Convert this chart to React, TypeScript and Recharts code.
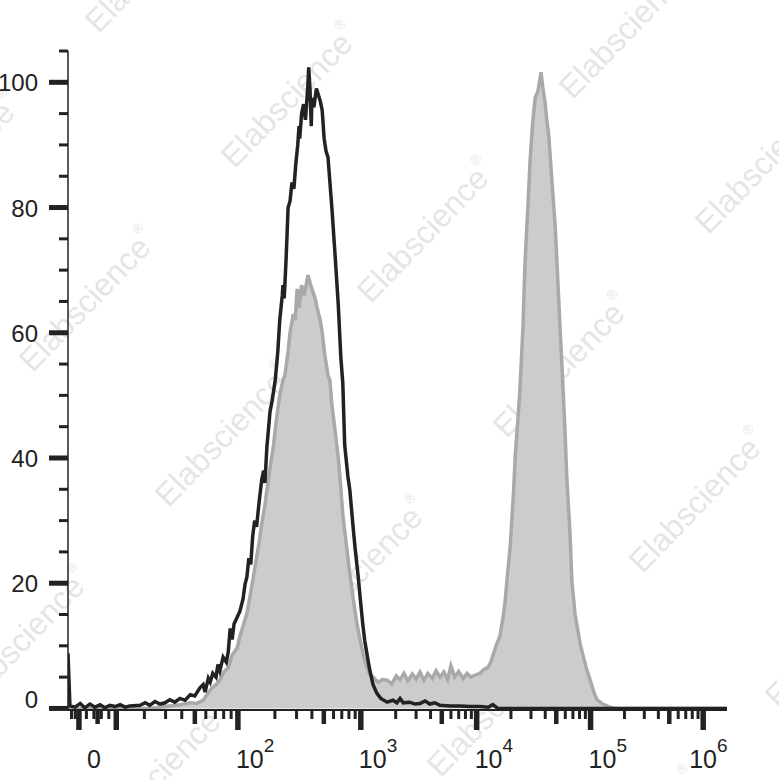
import React from "react";
import { Area, ComposedChart, Customized, Line, XAxis, YAxis } from "recharts";

// histogram channels run 0..1024 across the plot (biexponential display scale)
const X_MAX = 1024;

// gray filled histogram (stained sample)
const grayChannels = [
  0, 127, 151, 174, 190, 200, 210, 218, 224, 230, 236, 242, 249, 255, 263, 267, 273, 278, 283, 287,
  292, 297, 301, 306, 309, 314, 319, 322, 325, 329, 334, 337, 342, 345, 350, 353, 356, 359, 363, 367,
  373, 376, 379, 384, 387, 392, 395, 399, 404, 407, 410, 415, 420, 423, 427, 433, 438, 443, 449, 454,
  460, 465, 469, 474, 482, 489, 496, 503, 510, 516, 522, 528, 535, 541, 547, 553, 559, 566, 572, 578,
  584, 590, 595, 601, 607, 614, 620, 626, 632, 640, 646, 653, 657, 662, 667, 671, 676, 679, 683, 687,
  692, 695, 699, 702, 707, 710, 715, 718, 722, 726, 730, 735, 738, 741, 744, 747, 752, 757, 760, 764,
  768, 772, 775, 780, 783, 788, 796, 802, 806, 813, 817, 822, 831, 842, 850, 1024,
];
const grayCounts = [
  0, 0, 0.3, 0.6, 0.9, 0.8, 1.3, 2.5, 3.3, 3.8, 4.5, 5.8, 6.5, 8.5, 9.7, 11.5, 13.5, 15.2, 18, 20.4,
  23.5, 26.5, 29.5, 32.5, 34.8, 38.5, 41.7, 44.5, 47, 50, 52.4, 53.2, 57, 60, 63, 62, 67, 64, 67.6, 66,
  69.2, 68, 67, 65.5, 64, 62, 60, 56.5, 53.2, 52.4, 48.5, 44.4, 40, 36.4, 31, 25.7, 21.5, 17.7, 13.5, 10.9,
  8, 6.5, 5.4, 5.0, 4.2, 4.6, 4.5, 3.9, 5.2, 4.6, 5.6, 4.4, 5.5, 4.7, 5.8, 4.5, 5.6, 4.8, 6.0, 5.0,
  5.8, 4.6, 6.8, 5.0, 5.9, 4.8, 5.6, 5.0, 5.3, 5.6, 6.2, 6.6, 7.4, 9.0, 10.5, 11.5, 14.5, 16.9, 21.5, 25.7,
  34, 40.4, 46, 50.5, 61, 70.8, 81, 87.5, 93.5, 97.6, 98.5, 101.6, 99, 97, 94, 91.5, 84.2, 77, 70.8, 62,
  53.8, 45, 37, 28, 20.3, 15, 10.2, 7.8, 6.2, 4.0, 2.6, 1.4, 0.7, 0.2, 0, 0,
];

// black open histogram (isotype control)
const blackChannels = [
  0, 3, 11, 19, 26, 34, 42, 50, 57, 65, 73, 81, 89, 96, 112, 120, 127, 135, 143, 151,
  158, 166, 174, 182, 190, 197, 205, 210, 213, 218, 221, 225, 230, 233, 236, 241, 246, 249, 252, 255,
  258, 263, 267, 272, 275, 278, 281, 284, 287, 290, 293, 297, 301, 304, 306, 309, 314, 317, 322, 326,
  329, 333, 334, 336, 339, 342, 345, 348, 351, 354, 357, 359, 360, 363, 366, 369, 373, 374, 376, 378,
  379, 382, 386, 389, 392, 395, 398, 401, 404, 407, 410, 415, 420, 424, 427, 430, 435, 438, 443, 446,
  451, 454, 458, 461, 466, 469, 474, 480, 486, 496, 505, 511, 516, 521, 531, 539, 547, 555, 562, 570,
  578, 594, 609, 625, 640, 653, 660, 668, 1024,
];
const blackCounts = [
  8.8, 0.4, 0.2, 0.8, 0.1, 0.7, 0.2, 0.6, 0.1, 0.5, 0.3, 0.6, 0.2, 0.4, 0.5, 0.9, 0.5, 1.1, 0.7, 0.9,
  1.4, 1.0, 1.6, 1.3, 2.2, 2.0, 3.3, 3.8, 2.6, 4.8, 4.2, 5.6, 5.0, 7.0, 6.0, 8.2, 7.4, 9.0, 12.8, 11.0,
  13.5, 14.6, 15.5, 17.5, 19.8, 21, 24, 23, 27.5, 30, 29, 33, 36.5, 38, 36, 41.7, 47.5, 49, 52.4, 57,
  62, 66, 67.6, 65.5, 72, 80, 81, 84, 83, 87, 90, 93, 91, 95, 96.5, 94, 100, 102.4, 99, 93,
  97.5, 96, 99, 98, 97, 95.5, 91, 89, 88, 84, 80, 72.4, 64.4, 56, 52, 42, 37, 34.8, 29, 25.7,
  21, 17.7, 13.5, 10.9, 7.8, 6.1, 3.8, 2.4, 1.6, 1.0, 1.3, 0.9, 1.6, 0.9, 1.0, 0.7, 0.8, 1.2, 0.7, 0.9,
  0.5, 0.4, 0.4, 0.3, 0.3, 0.2, 0.6, 0, 0,
];

// axis ticks
const yTicks = [0, 5, 10, 15, 20, 25, 30, 35, 40, 45, 50, 55, 60, 65, 70, 75, 80, 85, 90, 95, 100, 105];
const yLabelTicks = [0, 20, 40, 60, 80, 100];

const xDecadeValues = [0, 10, 100, 1e3, 1e4, 1e5, 1e6];
const xDecadeChannels = [17, 75, 264, 455, 635, 812, 987];
const xMajorTicks = [0, 10, 100, 1e3, 1e4, 1e5, 1e6];
const xMediumTicks = [5, 50, 500, 5e3, 5e4, 5e5];
const xSmallTicks = [-2, -1, 2, 4, 6, 8];
const xLabelValues = [0, 100, 1e3, 1e4, 1e5, 1e6];
const xLabelExponents = ["", "2", "3", "4", "5", "6"];

const FONT = "'Liberation Sans', Arial, sans-serif";
const INK = "#222222";

function toChannel(v: number) {
  if (v < xDecadeValues[1])
    return xDecadeChannels[0] + ((xDecadeChannels[1] - xDecadeChannels[0]) * v) / xDecadeValues[1];
  const k = Math.min(Math.floor(Math.log10(v)), 5);
  let f = Math.log10(v) - k;
  if (k === 1) f = Math.pow(f, 1.22);
  return xDecadeChannels[k] + (xDecadeChannels[k + 1] - xDecadeChannels[k]) * f;
}

const xTickList: { ch: number; kind: "major" | "medium" | "minor"; label?: number }[] = [];
xMajorTicks.forEach((v) => xTickList.push({ ch: toChannel(v), kind: "major" }));
xMediumTicks.forEach((v) => xTickList.push({ ch: toChannel(v), kind: "medium" }));
xSmallTicks.forEach((v) => xTickList.push({ ch: toChannel(v), kind: "minor" }));
for (let d = 1; d <= 5; d++) {
  [2, 3, 4, 6, 7, 8, 9].forEach((m) =>
    xTickList.push({ ch: toChannel(m * Math.pow(10, d)), kind: "minor" })
  );
}
xLabelValues.forEach((v, i) => {
  const t = xTickList.find((t) => t.kind === "major" && t.ch === toChannel(v));
  if (t) t.label = i;
});
xTickList.sort((a, b) => a.ch - b.ch);
const xTicks = xTickList.map((t) => t.ch);

const grayData = grayChannels.map((ch, i) => ({ ch, count: grayCounts[i] }));
const blackData = blackChannels.map((ch, i) => ({ ch, count: blackCounts[i] }));

function XTick(props: any) {
  const { x, y, index } = props;
  const t = xTickList[index];
  if (!t) return null;
  const len = t.kind === "major" ? 20 : t.kind === "medium" ? 14 : 9;
  const w = t.kind === "major" ? 5.5 : t.kind === "medium" ? 4.5 : 3;
  let label = null;
  if (t.label !== undefined) {
    const exp = xLabelExponents[t.label];
    if (exp === "") {
      label = (
        <text x={x + 15} y={y + 58} textAnchor="middle" fontSize={25} fontFamily={FONT} fill={INK}>
          0
        </text>
      );
    } else {
      const shift = exp === "6" ? -14 : -2;
      label = (
        <text x={x + shift} y={y + 58} textAnchor="start" fontSize={25} fontFamily={FONT} fill={INK}>
          10
          <tspan dy={-16} fontSize={19}>
            {exp}
          </tspan>
        </text>
      );
    }
  }
  return (
    <g>
      <line x1={x} x2={x} y1={y} y2={y + len} stroke={INK} strokeWidth={w} />
      {label}
    </g>
  );
}

function YTick(props: any) {
  const { x, y, payload } = props;
  const v = payload.value;
  const major = yLabelTicks.includes(v);
  return (
    <g>
      <line
        x1={x - (major ? 19 : 9)}
        x2={x}
        y1={y}
        y2={y}
        stroke={INK}
        strokeWidth={major ? 5 : 3}
      />
      {major && (
        <text
          x={x - 30}
          y={v === 0 ? y : y + 9}
          textAnchor="end"
          fontSize={24}
          fontFamily={FONT}
          fill={INK}
        >
          {v}
        </text>
      )}
    </g>
  );
}

// faint repeated "Elabscience®" watermark, laid out on a diagonal lattice
function Watermark() {
  const marks = [];
  for (let a = -2; a <= 5; a++) {
    for (let b = -2; b <= 3; b++) {
      const cx = 290 + 136 * a - 202 * b;
      const cy = 96 + 135 * a + 204 * b;
      if (cx < -160 || cx > 940 || cy < -120 || cy > 900) continue;
      marks.push(
        <text
          key={`${a}_${b}`}
          transform={`translate(${cx},${cy}) rotate(-46)`}
          textAnchor="middle"
          dominantBaseline="central"
          fontSize={32}
          fontFamily={FONT}
          fill="#d4d4d4"
          fillOpacity={0.6}
        >
          Elabscience
          <tspan fontSize={14} dy={-14}>
            ®
          </tspan>
        </text>
      );
    }
  }
  return <g>{marks}</g>;
}

export default function App() {
  return (
    <div style={{ position: "absolute", left: 0, top: 0, width: 779, height: 780, background: "#fff" }}>
      <ComposedChart width={779} height={780} margin={{ top: 51, right: 52, left: 8, bottom: 0 }}>
        <XAxis
          dataKey="ch"
          type="number"
          domain={[0, X_MAX]}
          allowDataOverflow
          ticks={xTicks}
          interval={0}
          tick={<XTick />}
          tickLine={false}
          tickSize={0}
          tickMargin={0}
          height={70}
          axisLine={{ stroke: INK, strokeWidth: 2 }}
        />
        <XAxis
          xAxisId="top"
          orientation="top"
          type="number"
          domain={[0, X_MAX]}
          tick={false}
          tickLine={false}
          height={0}
          axisLine={{ stroke: INK, strokeWidth: 1.5 }}
        />
        <YAxis
          type="number"
          domain={[-0.25, 105]}
          allowDataOverflow
          ticks={yTicks}
          interval={0}
          tick={<YTick />}
          tickLine={false}
          tickSize={0}
          tickMargin={0}
          width={60}
          axisLine={{ stroke: INK, strokeWidth: 1.5 }}
        />
        <YAxis
          yAxisId="right"
          orientation="right"
          type="number"
          domain={[0, 105]}
          tick={false}
          tickLine={false}
          width={0}
          axisLine={{ stroke: INK, strokeWidth: 1.5 }}
        />
        <Area
          data={grayData}
          dataKey="count"
          type="linear"
          fill="#cccccc"
          fillOpacity={1}
          stroke="#a9a9a9"
          strokeWidth={3.5}
          baseValue={0}
          dot={false}
          activeDot={false}
          isAnimationActive={false}
        />
        <Customized component={<Watermark />} />
        <Line
          data={blackData}
          dataKey="count"
          type="linear"
          stroke={INK}
          strokeWidth={3.5}
          dot={false}
          activeDot={false}
          isAnimationActive={false}
        />
      </ComposedChart>
    </div>
  );
}
